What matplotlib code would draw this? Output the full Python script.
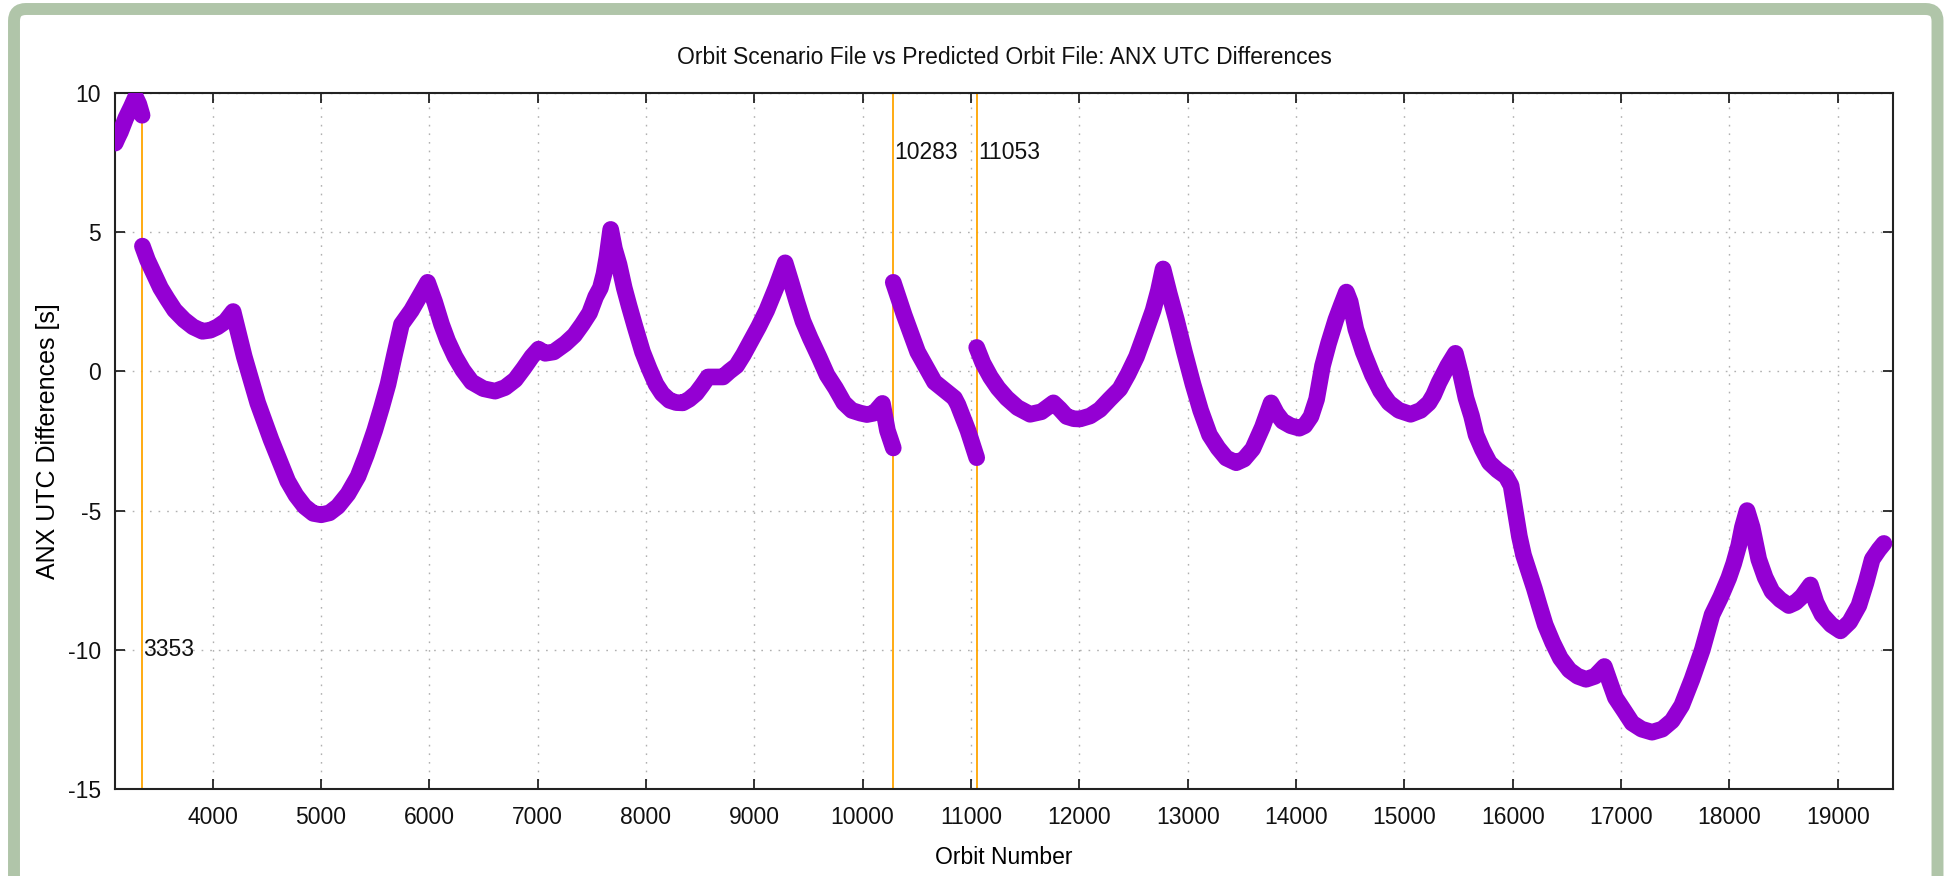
import matplotlib
matplotlib.use('Agg')
import matplotlib.pyplot as plt
from matplotlib.patches import FancyBboxPatch

plt.rcParams['font.family'] = ['Liberation Sans', 'DejaVu Sans']
plt.rcParams['axes.unicode_minus'] = False

# ANX UTC differences, one list per arc between orbit-file changes
seg1_orbit = [3102, 3125, 3150, 3200, 3250, 3290, 3320, 3350]
seg1_diff = [8.2, 8.4, 8.6, 9.1, 9.5, 9.85, 9.6, 9.2]

seg2_orbit = [3353, 3400, 3460, 3520, 3583, 3650, 3738, 3820, 3907, 3980,
              4046, 4120, 4190, 4293, 4417, 4540, 4694, 4770, 4849, 4930,
              5003, 5080, 5157, 5250, 5343, 5420, 5497, 5560, 5620, 5680,
              5744, 5836, 5985, 6050, 6114, 6170, 6238, 6310, 6392, 6500,
              6608, 6700, 6793, 6870, 6947, 7009, 7071, 7150, 7257, 7340,
              7412, 7480, 7536, 7580, 7613, 7640, 7675, 7710, 7752, 7800,
              7845, 7900, 7969, 8030, 8093, 8150, 8217, 8280, 8341, 8400,
              8464, 8520, 8573, 8712, 8770, 8836, 8900, 8960, 9040, 9115,
              9200, 9285, 9340, 9393, 9450, 9517, 9600, 9672, 9750, 9827,
              9900, 9981, 10040, 10105, 10183, 10229, 10283]
seg2_diff = [4.5, 4.0, 3.5, 3.0, 2.6, 2.2, 1.85, 1.6, 1.44, 1.48,
             1.6, 1.8, 2.15, 0.53, -1.13, -2.45, -3.94, -4.45, -4.85, -5.1,
             -5.15, -5.08, -4.85, -4.4, -3.77, -3.0, -2.12, -1.3, -0.46, 0.6,
             1.69, 2.19, 3.2, 2.5, 1.69, 1.1, 0.53, 0.05, -0.38, -0.62,
             -0.71, -0.58, -0.3, 0.1, 0.53, 0.8, 0.65, 0.7, 1.0, 1.3,
             1.69, 2.1, 2.68, 3.0, 3.5, 4.1, 5.1, 4.4, 3.84, 3.0,
             2.35, 1.6, 0.7, 0.1, -0.46, -0.8, -1.04, -1.12, -1.13, -1.0,
             -0.79, -0.5, -0.2, -0.2, 0.0, 0.2, 0.6, 1.03, 1.6, 2.19,
             3.0, 3.9, 3.2, 2.5, 1.8, 1.19, 0.5, -0.13, -0.6, -1.13,
             -1.4, -1.5, -1.55, -1.5, -1.15, -2.12, -2.75]

seg3_orbit = [10283, 10384, 10508, 10663, 10848, 10880, 10972, 11053]
seg3_diff = [3.2, 2.02, 0.7, -0.38, -0.96, -1.2, -2.12, -3.1]

seg4_orbit = [11053, 11110, 11180, 11250, 11331, 11430, 11546, 11650, 11761,
              11820, 11883, 11950, 12006, 12100, 12190, 12280, 12374, 12450,
              12528, 12600, 12681, 12730, 12773, 12830, 12896, 12970, 13049,
              13120, 13202, 13280, 13356, 13448, 13520, 13601, 13690, 13770,
              13820, 13877, 13950, 14031, 14080, 14138, 14190, 14245, 14300,
              14368, 14420, 14465, 14500, 14552, 14620, 14706, 14780, 14859,
              14950, 15058, 15150, 15227, 15270, 15320, 15400, 15471, 15520,
              15569, 15620, 15662, 15720, 15785, 15860, 15938, 15985, 16062,
              16100, 16154, 16200, 16246, 16300, 16369, 16440, 16523, 16600,
              16677, 16760, 16846, 16900, 16948, 17030, 17102, 17190, 17286,
              17380, 17471, 17560, 17655, 17750, 17840, 17920, 17994, 18040,
              18086, 18120, 18163, 18210, 18271, 18330, 18394, 18470, 18548,
              18610, 18671, 18748, 18800, 18856, 18940, 19025, 19110, 19195,
              19260, 19318, 19380, 19426]
seg4_diff = [0.86, 0.3, -0.2, -0.6, -0.96, -1.3, -1.54, -1.45, -1.13,
             -1.35, -1.62, -1.7, -1.71, -1.6, -1.37, -1.0, -0.63, -0.1,
             0.53, 1.3, 2.19, 2.9, 3.68, 2.8, 1.86, 0.7, -0.46,
             -1.4, -2.28, -2.75, -3.11, -3.28, -3.15, -2.78, -2.0, -1.13,
             -1.5, -1.79, -1.95, -2.04, -1.95, -1.62, -1.0, 0.2, 1.0,
             1.86, 2.4, 2.85, 2.5, 1.52, 0.7, -0.13, -0.7, -1.13,
             -1.4, -1.54, -1.4, -1.13, -0.85, -0.4, 0.2, 0.65, -0.1,
             -0.96, -1.6, -2.28, -2.8, -3.28, -3.55, -3.77, -4.1, -5.93,
             -6.6, -7.25, -7.8, -8.41, -9.1, -9.74, -10.3, -10.73, -10.95,
             -11.06, -10.95, -10.6, -11.2, -11.72, -12.2, -12.63, -12.85, -12.96,
             -12.85, -12.55, -12.0, -11.06, -10.0, -8.74, -8.1, -7.42, -6.9,
             -6.26, -5.6, -5.0, -5.6, -6.75, -7.4, -7.91, -8.2, -8.41,
             -8.3, -8.08, -7.67, -8.3, -8.74, -9.1, -9.32, -9.0, -8.41,
             -7.6, -6.75, -6.4, -6.18]

switch_orbits = [3353, 10283, 11053]
switch_label_y = [-10, 7.85, 7.85]

xticks = list(range(4000, 20000, 1000))
yticks = [-15, -10, -5, 0, 5, 10]

W, H = 1947, 876
fig = plt.figure(figsize=(W / 100, H / 100), dpi=100)
fig.patch.set_facecolor('white')

# green rounded frame (bottom edge runs off the picture)
frame = FancyBboxPatch((14, -20), 1923.5, H + 20 - 9,
                       boxstyle='round,pad=0,rounding_size=12',
                       transform=None, facecolor='white',
                       edgecolor='#b0c5a9', linewidth=8.6, zorder=-5)
fig.patches.append(frame)

ax = fig.add_axes([115 / W, 1 - 789 / H, 1778 / W, 696 / H])
ax.set_xlim(3100, 19510)
ax.set_ylim(-15, 10)

for x0 in switch_orbits:
    ax.axvline(x0, color='#ffa500', lw=1.3, zorder=2)

purple = '#9400d3'
for xs, ys in [(seg1_orbit, seg1_diff), (seg2_orbit, seg2_diff),
               (seg3_orbit, seg3_diff), (seg4_orbit, seg4_diff)]:
    ax.plot(xs, ys, color=purple, lw=12, solid_capstyle='round',
            solid_joinstyle='round', zorder=3)

for x0, yl in zip(switch_orbits, switch_label_y):
    ax.text(x0 + 10, yl, str(x0), fontsize=16.5, ha='left', va='center',
            color='#111111', zorder=4)

ax.set_xticks(xticks)
ax.set_yticks(yticks)
ax.grid(True, color='#b0b0b0', linestyle=(0, (1.2, 5)), lw=1)
ax.tick_params(direction='in', length=7, width=1.2, top=True, right=True,
               labelsize=16.5, colors='#111111')
ax.tick_params(axis='x', pad=12)
ax.tick_params(axis='y', pad=10)
for sp in ax.spines.values():
    sp.set_color('#222222')
    sp.set_linewidth(1.5)

ax.set_xlabel('Orbit Number', fontsize=16.5)
ax.xaxis.set_label_coords(0.5, -0.082)
ax.set_ylabel('ANX UTC Differences [s]', fontsize=18)
ax.yaxis.set_label_coords(-0.031, 0.5)

fig.text((115 + 1893) / 2 / W, 1 - 58 / H,
         'Orbit Scenario File vs Predicted Orbit File: ANX UTC Differences',
         fontsize=16.5, ha='center', va='center', color='#111111')

fig.savefig('out.png', dpi=100)
